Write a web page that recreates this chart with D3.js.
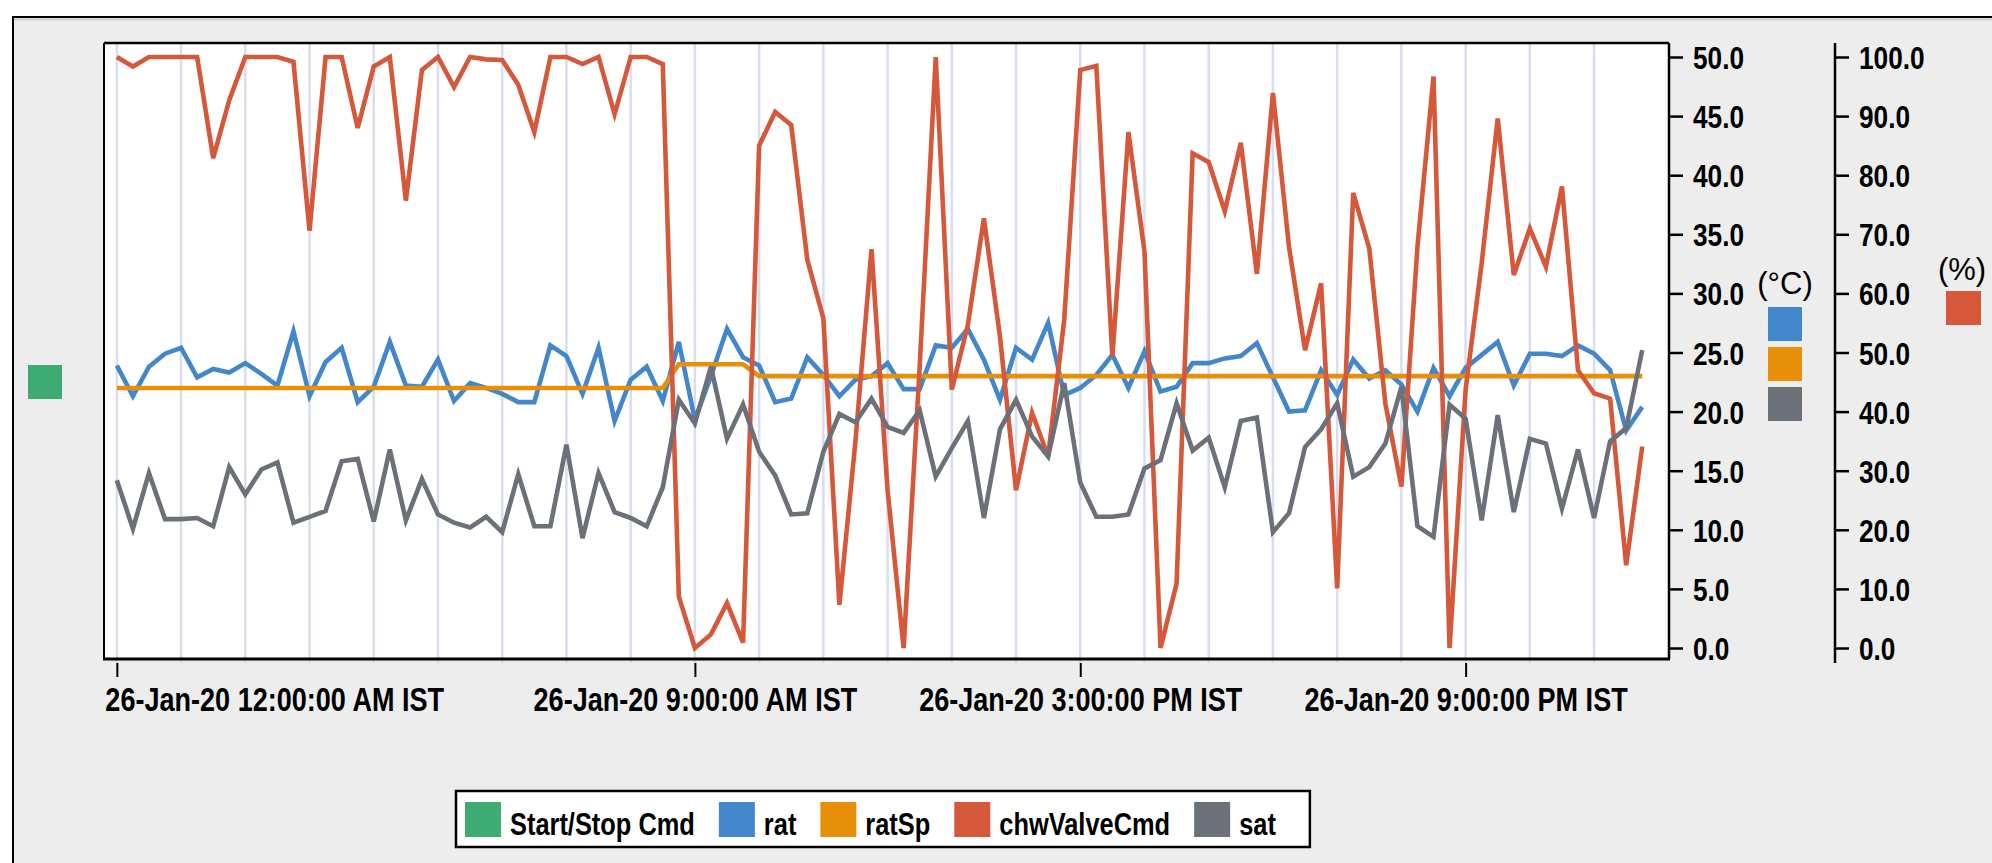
<!DOCTYPE html>
<html>
<head>
<meta charset="utf-8">
<script src="https://cdn.jsdelivr.net/npm/d3@7"></script>
<style>
  body { margin: 0; background: #fff; }
  svg { display: block; }
  text { font-family: "Liberation Sans", Arial, sans-serif; fill: #000; }
</style>
</head>
<body>
<svg width="1992" height="863"></svg>
<script>
// DATA (15 minute samples, 26-Jan-20)

var seriesNames = ["Start/Stop Cmd", "rat", "ratSp", "chwValveCmd", "sat"];
var seriesColors = ["#3dab72", "#4287cc", "#e78f08", "#d5583a", "#6b7079"];

var times = d3.timeMinute.every(15).range(new Date(2020, 0, 26, 0, 0), new Date(2020, 0, 27, 0, 0));

var ratValues = [23.9, 21.3, 23.8, 24.9, 25.4, 22.9, 23.6, 23.3, 24.1, 23.2,
  22.2, 26.8, 21.3, 24.2, 25.4, 20.8, 22.1, 25.9, 22.2, 22.1,
  24.4, 20.9, 22.4, 22.0, 21.5, 20.8, 20.8, 25.6, 24.7, 21.5,
  25.4, 19.2, 22.7, 23.8, 20.9, 25.9, 19.3, 23.0, 27.0, 24.6,
  23.9, 20.8, 21.1, 24.6, 23.1, 21.3, 22.7, 23.0, 24.1, 21.9,
  21.9, 25.6, 25.4, 27.0, 24.4, 21.0, 25.4, 24.4, 27.5, 21.4,
  22.0, 23.1, 24.8, 22.0, 25.1, 21.7, 22.1, 24.1, 24.1, 24.5,
  24.7, 25.8, 22.9, 20.0, 20.1, 23.5, 21.4, 24.4, 22.8, 23.5,
  22.3, 20.0, 23.7, 21.3, 23.7, 24.8, 25.9, 22.2, 24.9, 24.9,
  24.7, 25.6, 24.9, 23.5, 18.4, 20.4];

var ratSpValues = [22.0, 22.0, 22.0, 22.0, 22.0, 22.0, 22.0, 22.0, 22.0, 22.0,
  22.0, 22.0, 22.0, 22.0, 22.0, 22.0, 22.0, 22.0, 22.0, 22.0,
  22.0, 22.0, 22.0, 22.0, 22.0, 22.0, 22.0, 22.0, 22.0, 22.0,
  22.0, 22.0, 22.0, 22.0, 22.0, 24.0, 24.0, 24.0, 24.0, 24.0,
  23.0, 23.0, 23.0, 23.0, 23.0, 23.0, 23.0, 23.0, 23.0, 23.0,
  23.0, 23.0, 23.0, 23.0, 23.0, 23.0, 23.0, 23.0, 23.0, 23.0,
  23.0, 23.0, 23.0, 23.0, 23.0, 23.0, 23.0, 23.0, 23.0, 23.0,
  23.0, 23.0, 23.0, 23.0, 23.0, 23.0, 23.0, 23.0, 23.0, 23.0,
  23.0, 23.0, 23.0, 23.0, 23.0, 23.0, 23.0, 23.0, 23.0, 23.0,
  23.0, 23.0, 23.0, 23.0, 23.0, 23.0];

var chwValveCmdValues = [100, 98.4, 100, 100, 100, 100, 82.9, 92.7, 100, 100,
  100, 99.2, 70.6, 100, 100, 88.0, 98.4, 100, 75.7, 97.8,
  100, 94.9, 100, 99.6, 99.5, 95.3, 87.3, 100, 100, 98.8,
  100, 90.3, 100, 100, 98.8, 8.7, 0, 2.3, 7.6, 0.9,
  85.0, 90.7, 88.5, 65.7, 55.8, 7.3, 35.0, 67.5, 26.7, 0,
  47.6, 100, 43.7, 54.7, 72.7, 52.7, 26.7, 39.8, 32.4, 55.5,
  97.8, 98.5, 49.3, 87.3, 67.1, 0, 10.9, 83.7, 82.2, 73.9,
  85.5, 63.3, 93.9, 67.9, 50.4, 61.7, 10.1, 77.0, 67.6, 41.4,
  27.3, 67.9, 96.7, 0, 43.7, 65.1, 89.6, 63.1, 71.0, 64.5,
  78.1, 47.0, 43.1, 42.2, 14.0, 34.1];

var satValues = [14.2, 10.1, 14.8, 10.9, 10.9, 11.0, 10.3, 15.3, 13.0, 15.1,
  15.7, 10.6, 11.1, 11.6, 15.8, 16.0, 10.7, 16.8, 10.8, 14.3,
  11.3, 10.6, 10.2, 11.1, 9.8, 14.7, 10.3, 10.3, 17.2, 9.3,
  14.8, 11.5, 11.0, 10.3, 13.6, 21.0, 19.0, 23.8, 17.7, 20.6,
  16.6, 14.6, 11.3, 11.4, 16.6, 19.8, 19.1, 21.1, 18.7, 18.2,
  20.1, 14.5, 16.9, 19.2, 11.0, 18.5, 21.0, 17.9, 16.2, 22.4,
  14.0, 11.1, 11.1, 11.3, 15.2, 15.9, 20.7, 16.7, 17.8, 13.6,
  19.2, 19.5, 9.8, 11.4, 17.0, 18.5, 20.7, 14.5, 15.3, 17.3,
  22.1, 10.3, 9.4, 20.6, 19.4, 10.8, 19.7, 11.5, 17.7, 17.3,
  11.8, 16.8, 11.0, 17.5, 18.6, 25.2];

var tickTimes = [new Date(2020, 0, 26, 0), new Date(2020, 0, 26, 9), new Date(2020, 0, 26, 15), new Date(2020, 0, 26, 21)];
var tickLabels = ["26-Jan-20 12:00:00 AM IST", "26-Jan-20 9:00:00 AM IST", "26-Jan-20 3:00:00 PM IST", "26-Jan-20 9:00:00 PM IST"];
var tempTicks = [0, 5, 10, 15, 20, 25, 30, 35, 40, 45, 50];
var pctTicks = [0, 10, 20, 30, 40, 50, 60, 70, 80, 90, 100];

// SETUP

var svg = d3.select("svg"),
  plot = { left: 104, top: 43, right: 1669, bottom: 659 },
  squeeze = 0.82;   // condensed look of the labels

function narrowText(sel, size) {
  return sel.attr("font-size", size).attr("font-weight", "bold")
    .attr("font-family", "'Liberation Sans', Arial, sans-serif")
    .attr("fill", "#000")
    .attr("transform", "scale(" + squeeze + ",1)");
}

var x = d3.scaleTime()
  .domain([new Date(2020, 0, 25, 23, 48), new Date(2020, 0, 27, 0, 10)])
  .range([plot.left, plot.right]);
var yTemp = d3.scaleLinear().domain([0, 50]).range([648, 57]);
var yPct = d3.scaleLinear().domain([0, 100]).range([648, 57]);

// background panel
svg.append("rect").attr("x", 13).attr("y", 17).attr("width", 2000).attr("height", 900)
  .attr("fill", "#ededed").attr("stroke", "#000").attr("stroke-width", 2);
svg.append("line").attr("x1", 14).attr("x2", 1992).attr("y1", 19.5).attr("y2", 19.5)
  .attr("stroke", "#c8c8c8").attr("stroke-width", 1.5);

// plot area
svg.append("rect").attr("x", plot.left).attr("y", plot.top)
  .attr("width", plot.right - plot.left).attr("height", plot.bottom - plot.top)
  .attr("fill", "#fff");

// hourly grid
svg.append("g").selectAll("line")
  .data(d3.timeHour.every(1).range(times[0], times[times.length - 1]))
  .enter().append("line")
  .attr("x1", function (d) { return x(d); })
  .attr("x2", function (d) { return x(d); })
  .attr("y1", plot.top).attr("y2", plot.bottom + 4)
  .attr("stroke", "#d9ddef").attr("stroke-width", 2.5);

svg.append("clipPath").attr("id", "clip")
  .append("rect").attr("x", plot.left).attr("y", plot.top)
  .attr("width", plot.right - plot.left).attr("height", plot.bottom - plot.top);

var lines = svg.append("g").attr("clip-path", "url(#clip)");

function drawLine(values, scale, color) {
  var line = d3.line()
    .x(function (d, i) { return x(times[i]); })
    .y(function (d) { return scale(d); });
  lines.append("path")
    .datum(values)
    .attr("d", line)
    .attr("fill", "none")
    .attr("stroke", color)
    .attr("stroke-width", 4.6);
}

drawLine(ratValues, yTemp, seriesColors[1]);
drawLine(ratSpValues, yTemp, seriesColors[2]);
drawLine(chwValveCmdValues, yPct, seriesColors[3]);
drawLine(satValues, yTemp, seriesColors[4]);

// plot frame
svg.append("line").attr("x1", plot.left).attr("x2", plot.right).attr("y1", plot.top).attr("y2", plot.top)
  .attr("stroke", "#000").attr("stroke-width", 2.5);
svg.append("line").attr("x1", plot.left).attr("x2", plot.left).attr("y1", plot.top).attr("y2", plot.bottom)
  .attr("stroke", "#000").attr("stroke-width", 2);
svg.append("line").attr("x1", plot.left - 1).attr("x2", plot.right + 1).attr("y1", plot.bottom).attr("y2", plot.bottom)
  .attr("stroke", "#000").attr("stroke-width", 3);

// Y AXES

function yAxis(scale, ticks, xPos, yTop, yBottom) {
  var g = svg.append("g")
    .attr("transform", "translate(" + xPos + ",0)")
    .call(d3.axisRight(scale).tickValues(ticks).tickFormat(d3.format(".1f"))
      .tickSize(14).tickSizeOuter(0).tickPadding(10));
  g.select(".domain").remove();
  g.selectAll(".tick line").attr("stroke", "#000").attr("stroke-width", 2.5);
  narrowText(g.selectAll(".tick text"), 32)
    .attr("x", 24 / squeeze).attr("dy", "0.36em");
  svg.append("line").attr("x1", xPos).attr("x2", xPos).attr("y1", yTop).attr("y2", yBottom)
    .attr("stroke", "#000").attr("stroke-width", 2.5);
}

yAxis(yTemp, tempTicks, plot.right, plot.top, plot.bottom);
yAxis(yPct, pctTicks, 1835, plot.top, 663);

// X AXIS

var xg = svg.append("g")
  .attr("transform", "translate(0,663)")
  .call(d3.axisBottom(x).tickValues(tickTimes)
    .tickFormat(function (d, i) { return tickLabels[i]; })
    .tickSize(14).tickSizeOuter(0));
xg.select(".domain").remove();
xg.selectAll(".tick line").attr("stroke", "#000").attr("stroke-width", 2);
narrowText(xg.selectAll(".tick text"), 33)
  .attr("y", 48).attr("dy", 0);
xg.selectAll(".tick text").filter(function (d, i) { return i === 0; })
  .attr("text-anchor", "start").attr("x", -12 / squeeze);

// AXIS KEYS

svg.append("rect").attr("x", 28).attr("y", 365).attr("width", 34).attr("height", 34)
  .attr("fill", seriesColors[0]);

svg.append("text").attr("x", 1785).attr("y", 294).attr("text-anchor", "middle")
  .attr("font-size", 31).text("(°C)");
[1, 2, 4].forEach(function (s, i) {
  svg.append("rect").attr("x", 1768).attr("y", 307 + i * 40).attr("width", 34).attr("height", 34)
    .attr("fill", seriesColors[s]);
});

svg.append("text").attr("x", 1962).attr("y", 280).attr("text-anchor", "middle")
  .attr("font-size", 31).text("(%)");
svg.append("rect").attr("x", 1946).attr("y", 291).attr("width", 35).attr("height", 34)
  .attr("fill", seriesColors[3]);

// LEGEND

var legend = svg.append("g");
var legendBox = legend.append("rect").attr("x", 456).attr("y", 791).attr("height", 56)
  .attr("fill", "#fff").attr("stroke", "#000").attr("stroke-width", 2.5);
var lx = 465;
seriesNames.forEach(function (name, i) {
  legend.append("rect").attr("x", lx).attr("y", 802).attr("width", 36).attr("height", 35)
    .attr("fill", seriesColors[i]);
  var t = narrowText(legend.append("text"), 31)
    .attr("x", (lx + 45) / squeeze).attr("y", 835).text(name);
  lx = lx + 45 + t.node().getComputedTextLength() * squeeze + 24;
});
legendBox.attr("width", lx - 24 + 34 - 456);
</script>
</body>
</html>
